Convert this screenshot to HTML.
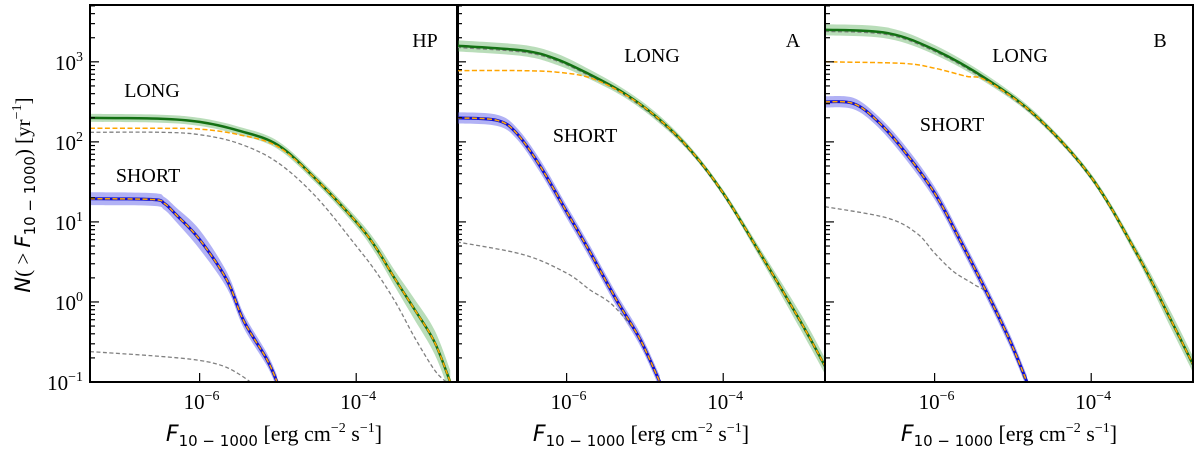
<!DOCTYPE html>
<html><head><meta charset="utf-8">
<style>
html,body{margin:0;padding:0;background:#fff;}
svg{display:block;}
text{font-family:"Liberation Serif",serif;fill:#000;}
</style></head>
<body>
<svg id="chart" width="1200" height="452" viewBox="0 0 1200 452" xmlns="http://www.w3.org/2000/svg">
<text transform="translate(30,195) rotate(-90)" text-anchor="middle" font-size="21"><tspan font-style="italic" font-family="DejaVu Sans, sans-serif">N</tspan>( &gt; <tspan font-style="italic" font-family="DejaVu Sans, sans-serif">F</tspan><tspan font-size="15" dy="5" font-family="DejaVu Sans, sans-serif">10 − 1000</tspan><tspan dy="-5">) [yr</tspan><tspan font-size="14" dy="-9">−1</tspan><tspan dy="9">]</tspan></text>
</svg>
<script>
// ---- data (log10 values) ----
const panelNames = ["HP","A","B"];
const xTickLabels = ["-6","-4"];
const xTickValues = [-6,-4];
const yTickValues = [3,2,1,0,-1];
const yTickLabels = ["3","2","1","0","−1"];

// HP
const hpLongX   = [-7.4,-6.5,-6,-5.5,-5,-4.5,-4,-3.75,-3.5,-3.25,-3,-2.8];
const hpLongY   = [2.3,2.29,2.25,2.14,1.96,1.52,1.0,0.68,0.28,-0.1,-0.5,-1.0];
const hpLongBand= [0.05,0.05,0.05,0.05,0.05,0.05,0.06,0.08,0.1,0.13,0.15,0.15];
const hpLongFitX= [-7.4,-6.5,-6,-5.5,-5,-4.5,-4,-3.75,-3.5,-3.25,-3,-2.8];
const hpLongFitY= [2.17,2.17,2.16,2.09,1.94,1.52,1.0,0.68,0.28,-0.1,-0.5,-1.0];
const hpLongGreyX=[-7.4,-6.5,-6,-5.5,-5,-4.5,-4,-3.75,-3.5,-3.25,-3,-2.85];
const hpLongGreyY=[2.12,2.12,2.09,1.98,1.74,1.3,0.7,0.38,0.0,-0.45,-0.85,-1.0];
const hpShortX  = [-7.4,-6.6,-6.45,-6.3,-6.0,-5.65,-5.44,-5.14,-5.01];
const hpShortY  = [1.29,1.28,1.23,1.09,0.78,0.27,-0.23,-0.72,-1.0];
const hpShortBand=[0.08,0.08,0.08,0.09,0.12,0.1,0.09,0.08,0.08];
const hpShortGreyX=[-7.4,-6.5,-6,-5.7,-5.5,-5.35];
const hpShortGreyY=[-0.62,-0.68,-0.73,-0.8,-0.9,-1.0];
// A
const aLongX    = [-7.4,-6.55,-6.12,-5.7,-5.27,-4.85,-4.42,-4.0,-3.53,-3.02,-2.7];
const aLongY    = [3.2,3.14,3.03,2.84,2.61,2.31,1.9,1.36,0.61,-0.23,-0.8];
const aLongBand = [0.07,0.07,0.07,0.06,0.05,0.05,0.04,0.04,0.06,0.1,0.1];
const aLongFitX = [-7.4,-6.6,-6.12,-5.7,-5.27,-4.85,-4.42,-4.0,-3.53,-3.02,-2.7];
const aLongFitY = [2.89,2.89,2.87,2.8,2.6,2.31,1.9,1.36,0.61,-0.23,-0.8];
const aShortX   = [-7.4,-6.89,-6.64,-6.34,-5.99,-5.7,-5.36,-5.06,-4.81];
const aShortY   = [2.3,2.27,2.11,1.7,1.11,0.62,0.02,-0.47,-1.0];
const aShortBand= [0.07,0.07,0.07,0.08,0.08,0.08,0.08,0.08,0.08];
const aShortGreyX=[-7.4,-6.55,-6.0,-5.7,-5.4,-5.06,-4.82];
const aShortGreyY=[0.75,0.59,0.36,0.15,-0.05,-0.47,-1.0];
// B
const bLongX    = [-7.4,-6.61,-6.0,-5.33,-4.69,-4.0,-3.42,-3.0,-2.7];
const bLongY    = [3.4,3.36,3.15,2.78,2.31,1.56,0.61,-0.19,-0.78];
const bLongBand = [0.07,0.07,0.06,0.05,0.04,0.04,0.06,0.1,0.1];
const bLongFitX = [-7.4,-6.4,-6.0,-5.6,-5.33,-4.69,-4.0,-3.42,-3.0,-2.7];
const bLongFitY = [3.0,2.98,2.92,2.82,2.76,2.31,1.56,0.61,-0.19,-0.78];
const bShortX   = [-7.4,-7.04,-6.74,-6.4,-6.0,-5.68,-5.33,-5.04,-4.82];
const bShortY   = [2.5,2.48,2.27,1.9,1.36,0.78,0.11,-0.48,-1.0];
const bShortBand= [0.07,0.07,0.07,0.08,0.08,0.08,0.08,0.08,0.08];
const bShortGreyX=[-7.4,-6.61,-6.23,-6.0,-5.76,-5.5,-5.3,-5.04,-4.84];
const bShortGreyY=[1.19,1.05,0.86,0.61,0.38,0.22,0.07,-0.48,-1.0];

const panelLefts=[90,457,825];
const PW=368, TOP=5, BOT=382;
const XMIN=-7.4, XMAX=-2.7, YMIN=-1, YMAX=3.71;
const NS="http://www.w3.org/2000/svg";
const svg=document.getElementById('chart');
function mk(tag,attrs,parent){const e=document.createElementNS(NS,tag);for(const k in attrs)e.setAttribute(k,attrs[k]);(parent||svg).appendChild(e);return e;}
function smooth(pts,start){
  let d=(start?'M':'L')+pts[0][0].toFixed(1)+','+pts[0][1].toFixed(1);
  for(let k=0;k<pts.length-1;k++){
    const p0=pts[Math.max(k-1,0)],p1=pts[k],p2=pts[k+1],p3=pts[Math.min(k+2,pts.length-1)];
    const c1=[p1[0]+(p2[0]-p0[0])/6,p1[1]+(p2[1]-p0[1])/6];
    const c2=[p2[0]-(p3[0]-p1[0])/6,p2[1]-(p3[1]-p1[1])/6];
    d+='C'+c1.map(v=>v.toFixed(1)).join(',')+' '+c2.map(v=>v.toFixed(1)).join(',')+' '+p2.map(v=>v.toFixed(1)).join(',');
  }
  return d;
}

const panels=[
 {long:[hpLongX,hpLongY,hpLongBand],fit:[hpLongFitX,hpLongFitY],lgrey:[hpLongGreyX,hpLongGreyY],short:[hpShortX,hpShortY,hpShortBand],sgrey:[hpShortGreyX,hpShortGreyY],
  lab:[[152,97,"LONG"],[148,182,"SHORT"],[425,47,panelNames[0]]]},
 {long:[aLongX,aLongY,aLongBand],fit:[aLongFitX,aLongFitY],lgrey:[aLongX,aLongY.map(v=>v-0.02)],short:[aShortX,aShortY,aShortBand],sgrey:[aShortGreyX,aShortGreyY],
  lab:[[652,62,"LONG"],[585,142,"SHORT"],[793,47,panelNames[1]]]},
 {long:[bLongX,bLongY,bLongBand],fit:[bLongFitX,bLongFitY],lgrey:[bLongX,bLongY.map(v=>v-0.02)],short:[bShortX,bShortY,bShortBand],sgrey:[bShortGreyX,bShortGreyY],
  lab:[[1020,62,"LONG"],[952,131,"SHORT"],[1160,47,panelNames[2]]]}
];

panels.forEach((p,i)=>{
  const L=panelLefts[i];
  const sx=v=>L+(v-XMIN)/(XMAX-XMIN)*PW;
  const sy=v=>BOT-(v-YMIN)/(YMAX-YMIN)*(BOT-TOP);
  const g=mk('g',{'clip-path':'url(#clip'+i+')'});
  
  
  const cp=mk('clipPath',{id:'clip'+i});
  mk('rect',{x:L,y:TOP,width:PW,height:BOT-TOP},cp);
  const line=(xs,ys)=>smooth(xs.map((x,k)=>[sx(x),sy(ys[k])]),true);
  const band=(xs,ys,bw)=>{
    const up=xs.map((x,k)=>[sx(x),sy(ys[k]+bw[k])]);
    const lo=xs.map((x,k)=>[sx(x),sy(ys[k]-bw[k])]).reverse();
    return smooth(up,true)+smooth(lo,false)+'Z';};
  let e;
  e=mk('path',{d:band(...p.long),fill:'rgba(80,170,80,0.4)',stroke:'none'},g);
  
  
  e=mk('path',{d:band(...p.short),fill:'rgba(100,100,235,0.5)',stroke:'none'},g);
  
  
  e=mk('path',{d:line(...p.lgrey),fill:'none',stroke:'#808080','stroke-width':1.3,'stroke-dasharray':'4,2.5'},g);
  
  
  e=mk('path',{d:line(...p.sgrey),fill:'none',stroke:'#808080','stroke-width':1.3,'stroke-dasharray':'4,2.5'},g);
  
  
  e=mk('path',{d:line(p.long[0],p.long[1]),fill:'none',stroke:'#137013','stroke-width':2.5},g);
  
  
  e=mk('path',{d:line(p.short[0],p.short[1]),fill:'none',stroke:'#1010d0','stroke-width':3},g);
  
  
  e=mk('path',{d:line(...p.fit),fill:'none',stroke:'#ffa500','stroke-width':1.5,'stroke-dasharray':'5,2.5'},g);
  
  
  e=mk('path',{d:line(p.short[0],p.short[1]),fill:'none',stroke:'#ffa500','stroke-width':1.5,'stroke-dasharray':'5,2.5'},g);
  
  
  for(let d=-1;d<=3;d++){
    for(let m=1;m<10;m++){
      const v=d+Math.log10(m); if(v>YMAX)break;
      const y=sy(v);
      e=mk('line',{x1:L,x2:L+(m==1?9:5),y1:y,y2:y,stroke:'#000','stroke-width':1.2});
      
      
    }
  }
  if(i==0){
    yTickValues.forEach((v,k)=>{
      const t=mk('text',{x:L-7,y:sy(v)+8,'text-anchor':'end','font-size':21});
      
      
      t.innerHTML='10<tspan font-size="14" dy="-9">'+yTickLabels[k]+'</tspan>';
    });
  }
  xTickValues.forEach((v,k)=>{
    const x=sx(v);
    e=mk('line',{x1:x,x2:x,y1:BOT,y2:BOT-9,stroke:'#000','stroke-width':1.2});
    
    
    const t=mk('text',{x:x+2,y:409,'text-anchor':'middle','font-size':21});
    
    
    t.innerHTML='10<tspan font-size="14" dy="-9">−'+xTickLabels[k].slice(1)+'</tspan>';
  });
  const xt=mk('text',{x:L+PW/2,y:441,'text-anchor':'middle','font-size':22});
  
  
  xt.innerHTML='<tspan font-style="italic" font-family="DejaVu Sans, sans-serif">F</tspan><tspan font-size="15" dy="5" font-family="DejaVu Sans, sans-serif">10 − 1000</tspan><tspan dy="-5"> [erg cm</tspan><tspan font-size="14" dy="-9">−2</tspan><tspan dy="9"> s</tspan><tspan font-size="14" dy="-9">−1</tspan><tspan dy="9">]</tspan>';
  p.lab.forEach(([x,y,s],k)=>{
    const t=mk('text',{x:x,y:y,'text-anchor':'middle','font-size':20});
    
    
    t.textContent=s;
  });
  e=mk('rect',{x:L,y:TOP,width:PW,height:BOT-TOP,fill:'none',stroke:'#000','stroke-width':2});
  
  
});
</script>
</body></html>
